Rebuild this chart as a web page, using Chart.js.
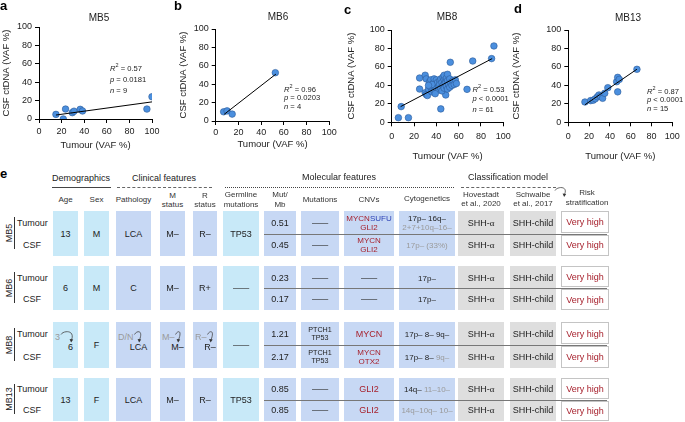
<!DOCTYPE html>
<html><head><meta charset="utf-8">
<script src="https://cdn.jsdelivr.net/npm/chart.js@4.4.1/dist/chart.umd.min.js"></script>
<style>
html,body{margin:0;padding:0;background:#fff;}
#root{position:relative;width:685px;height:422px;overflow:hidden;background:#fff;}
#root canvas{position:absolute;top:0;}
.t{position:absolute;white-space:nowrap;line-height:1.15;font-family:'Liberation Sans',Arial,Helvetica,sans-serif;color:#222;}
.bx{position:absolute;box-sizing:border-box;}
.a{font-family:'Liberation Serif','Times New Roman',serif;}
svg{position:absolute;left:0;top:0;}
</style></head><body><div id="root"></div>
<script>
// ---------------- scatter data (VAF %) ----------------
const mb5Tumour = [15, 21.5, 23.5, 29.5, 31, 36.5, 38.5, 95.5, 100];
const mb5Csf    = [5, 0, 10.8, 6.9, 8.5, 10.5, 8.7, 10.8, 24.2];
const mb5FitX = [15, 100];
const mb5FitY = [4.3, 18.6];
const mb5Stats = ['0.57', '= 0.0181', '9'];

const mb6Tumour = [7, 10, 14.5, 52.5];
const mb6Csf    = [10, 11, 7.5, 52.5];
const mb6FitX = [7.5, 53];
const mb6FitY = [7.3, 51];
const mb6Stats = ['0.96', '= 0.0203', '4'];

const mb8Tumour = [6, 15, 8.5, 44, 52.5, 72.6, 91.6, 89.5, 67.5, 48.4,
  25, 25, 30, 31, 30, 31, 32, 33, 34, 35, 35, 36, 37, 38, 38, 39, 40, 40, 41, 42,
  42, 43, 43, 44, 44, 45, 45, 46, 46, 47, 47, 47, 48, 48, 49, 49, 50, 50, 50, 51,
  52, 52, 53, 54, 55, 56, 57, 58, 36, 39, 33];
const mb8Csf = [5, 5, 17, 14.5, 65, 66.4, 82.7, 69, 35.7, 29.6,
  48, 36, 51, 47, 32, 30, 29, 36, 44, 46, 38, 33, 42, 47, 34, 40, 46, 37, 43, 35,
  39, 45, 41, 37, 47, 43, 34, 40, 49, 46, 37, 51, 44, 42, 48, 39, 52, 45, 36, 41,
  47, 38, 43, 40, 45, 41, 46, 42, 41, 31, 40];
const mb8FitX = [8, 90];
const mb8FitY = [17, 69];
const mb8Stats = ['0.53', '< 0.0001', '61'];

const mb13Tumour = [16, 21.5, 24, 26, 28, 29.5, 31, 33, 35, 38, 47.5, 46.5, 47.5, 49, 66];
const mb13Csf    = [22, 23.5, 24, 25.5, 27.7, 29.6, 28, 26, 31.4, 37.5, 33, 44, 48.7, 46.5, 57.4];
const mb13FitX = [16, 66];
const mb13FitY = [19, 57.5];
const mb13Stats = ['0.87', '< 0.0001', '15'];

const panelTitles = ['MB5', 'MB6', 'MB8', 'MB13'];
const axisTicks = [0, 20, 40, 60, 80, 100];

// ---------------- table data ----------------
const patients = ['MB5', 'MB6', 'MB8', 'MB13'];
const ages = ['13', '6', '3>6', '13'];
const sexes = ['M', 'M', 'F', 'F'];
const pathology = ['LCA', 'C', 'D/N>LCA', 'LCA'];
const mStatus = ['M–', 'M–', 'M–>M–', 'M–'];
const rStatus = ['R–', 'R+', 'R–>R–', 'R–'];
const germline = ['TP53', '—', '—', 'TP53'];
const mutMbTumour = ['0.51', '0.23', '1.21', '0.85'];
const mutMbCsf = ['0.45', '0.17', '2.17', '0.85'];
const mutationsTumour = ['—', '—', 'PTCH1|TP53', '—'];
const mutationsCsf = ['—', '—', 'PTCH1|TP53', '—'];
const cnvTumour = ['{r:MYCN}{b:SUFU}|{r:GLI2}', '—', '{r:MYCN}', '{r:GLI2}'];
const cnvCsf = ['{r:MYCN}|{r:GLI2}', '—', '{r:MYCN}|{r:OTX2}', '{r:GLI2}'];
const cytoTumour = ['17p– 16q–|{g:2+7+10q–16–}', '17p–', '17p– 8– 9q–', '14q– {g:11–10–}'];
const cytoCsf = ['{g:17p– (33%)}', '17p–', '17p– 8– {g:9q–}', '{g:14q–10q– 10–}'];
const hovestadt = ['SHH-α', 'SHH-α', 'SHH-α', 'SHH-α'];
const schwalbe = ['SHH-child', 'SHH-child', 'SHH-child', 'SHH-child'];
const riskTumour = ['Very high', 'Very high', 'Very high', 'Very high'];
const riskCsf = ['Very high', 'Very high', 'Very high', 'Very high'];

// ---------------- layout / style ----------------
const F = "'Liberation Sans', Arial, Helvetica, sans-serif";
const RED = '#a61f2b', BLUE = '#2a3fb5', GRAY = '#9a9a9a';
const CYAN = '#c8e9f8', LAV = '#c7d8f4', GREYC = '#dedede';
const root = document.getElementById('root');

function put(html, x, y, o = {}) {
  const d = document.createElement('div');
  d.className = 't';
  d.innerHTML = html;
  const s = d.style;
  s.left = x + 'px'; s.top = y + 'px';
  s.fontSize = (o.size || 9) + 'px';
  if (o.color) s.color = o.color;
  if (o.bold) s.fontWeight = 'bold';
  if (o.lh) s.lineHeight = o.lh + 'px';
  const ax = o.align === 'left' ? '0' : '-50%';
  s.transform = `translate(${ax},-50%)` + (o.rot ? ` rotate(${o.rot}deg)` : '') + (o.sx ? ` scaleX(${o.sx})` : '');
  s.textAlign = o.align === 'left' ? 'left' : 'center';
  root.appendChild(d);
  return d;
}
function box(l, t, r, b, bg, border) {
  const d = document.createElement('div');
  d.className = 'bx';
  Object.assign(d.style, {left: l + 'px', top: t + 'px', width: (r - l) + 'px', height: (b - t) + 'px', background: bg});
  if (border) d.style.border = border;
  root.appendChild(d);
  return d;
}
function hline(x1, x2, y, style) {
  const d = document.createElement('div');
  d.className = 'bx';
  Object.assign(d.style, {left: x1 + 'px', top: y + 'px', width: (x2 - x1) + 'px', height: '0px', borderTop: style});
  root.appendChild(d);
}

// ---------------- charts ----------------
const panels = [
  {xs: mb5Tumour, ys: mb5Csf, fx: mb5FitX, fy: mb5FitY, st: mb5Stats, left: 0, w: 175, h: 155, top: 27, axL: 39, right: 152, bottom: 119, tickPad: 3, yTP: 1, xTP: 3.6, tx: 99, ty: 17.5, sx: 110, sy: [68, 79.5, 91], letter: 'a', lx: 0, ly: 5},
  {xs: mb6Tumour, ys: mb6Csf, fx: mb6FitX, fy: mb6FitY, st: mb6Stats, left: 170, w: 180, h: 155, top: 29, axL: 45.7, right: 159.3, bottom: 121, tickPad: 2, yTP: 7.5, xTP: 4.5, tx: 278, ty: 17, sx: 284, sy: [89, 98.3, 107], letter: 'b', lx: 174, ly: 5.3},
  {xs: mb8Tumour, ys: mb8Csf, fx: mb8FitX, fy: mb8FitY, st: mb8Stats, left: 340, w: 180, h: 165, top: 30, axL: 51.7, right: 163.3, bottom: 122.3, tickPad: 5, yTP: 6, xTP: 2.6, tx: 447, ty: 17, sx: 472.5, sy: [89.3, 99.3, 110], letter: 'c', lx: 344, ly: 9},
  {xs: mb13Tumour, ys: mb13Csf, fx: mb13FitX, fy: mb13FitY, st: mb13Stats, left: 510, w: 175, h: 165, top: 30, axL: 58.3, right: 162.3, bottom: 122.3, tickPad: 5, yTP: 1, xTP: 2.6, tx: 628, ty: 18, sx: 647, sy: [90.7, 100, 108.5], letter: 'd', lx: 514, ly: 8}
];

panels.forEach((p, k) => {
  const cv = document.createElement('canvas');
  cv.width = p.w; cv.height = p.h;
  cv.style.left = p.left + 'px'; cv.style.width = p.w + 'px'; cv.style.height = p.h + 'px';
  root.appendChild(cv);
  const axisCommon = {
    type: 'linear', min: 0, max: 100,
    grid: {drawOnChartArea: false, drawTicks: true, tickLength: 4, color: '#000', lineWidth: 1},
    border: {display: true, color: '#000', width: 1}
  };
  new Chart(cv, {
    type: 'scatter',
    data: {datasets: [
      {type: 'line', data: p.fx.map((x, i) => ({x, y: p.fy[i]})), borderColor: '#000', borderWidth: 1, pointRadius: 0, showLine: true, fill: false, order: 0},
      {data: p.xs.map((x, i) => ({x, y: p.ys[i]})), backgroundColor: '#4b8fde', borderColor: '#2c5b99', borderWidth: 0.6, pointRadius: 3.3, order: 1}
    ]},
    options: {
      responsive: false, animation: false, devicePixelRatio: 1,
      layout: {padding: {top: p.top, right: p.w - p.right, left: 0, bottom: 0}},
      plugins: {legend: {display: false}, tooltip: {enabled: false}, title: {display: false}},
      scales: {
        x: Object.assign({}, axisCommon, {
          afterFit: s => { s.height = p.h - p.bottom; },
          afterBuildTicks: s => { s.ticks = axisTicks.map(v => ({value: v})); },
          ticks: {font: {size: 9, family: F}, color: '#222', padding: p.tickPad, maxRotation: 0, autoSkip: false},
          title: {display: true, text: 'Tumour (VAF %)', font: {size: 9.5, family: F}, color: '#222', padding: {top: 0, bottom: p.xTP}}
        }),
        y: Object.assign({}, axisCommon, {
          afterFit: s => { s.width = p.axL; },
          afterBuildTicks: s => { s.ticks = axisTicks.map(v => ({value: v})); },
          ticks: {font: {size: 9, family: F}, color: '#222', padding: 3, autoSkip: false},
          title: {display: true, text: 'CSF ctDNA (VAF %)', font: {size: 9.5, family: F}, color: '#222', padding: {top: p.yTP, bottom: 0}}
        })
      }
    }
  });
  put(p.letter, p.lx, p.ly, {size: 13, bold: true, color: '#000', align: 'left', lh: 13});
  put(panelTitles[k], p.tx, p.ty, {size: 10, color: '#222'});
  put(`<i>R</i><sup style="font-size:5.5px;vertical-align:4px">2</sup> = ${p.st[0]}`, p.sx, p.sy[0], {size: 7.6, align: 'left'});
  put(`<i>p</i> ${p.st[1]}`, p.sx, p.sy[1], {size: 7.6, align: 'left'});
  put(`<i>n</i> = ${p.st[2]}`, p.sx, p.sy[2], {size: 7.6, align: 'left'});
});

// ---------------- table ----------------
const cols = {age: [53, 78], sex: [84, 109], path: [116, 151], m: [160, 185], r: [193, 217], germ: [223, 259],
  mut: [264, 296], muts: [301, 339], cnv: [344, 394], cyto: [399, 455], hov: [458, 504], sch: [510, 556], risk: [561, 609]};
const blocks = [[211, 256], [266, 310], [322, 368], [378, 421]];
const cx = c => (cols[c][0] + cols[c][1]) / 2;

function rich(s) {
  return s.split('|').map(line => line.replace(/\{([rbg]):([^}]*)\}/g, (m, c, t) =>
    `<span style="color:${c === 'r' ? RED : c === 'b' ? BLUE : GRAY}">${t}</span>`)).join('<br>')
    .replace(/α/g, '<span class="a">α</span>');
}
function cellText(col, cy, s, size) {
  if (s === '—') put('—', cx(col), cy, {size: 9, color: '#333', sx: 1.8});
  else put(rich(s), cx(col), cy, {size: size || 9, lh: (size || 9) + 1});
}
const svgNS = 'http://www.w3.org/2000/svg';
const arrows = [];
function arrow(x0, y0, x1, y1) { arrows.push([x0, y0, x1, y1]); }
function changed(col, top, s) {
  const [a, b] = s.split('>');
  const l = cols[col][0];
  const d1 = put(a, l + 2, top + 15, {size: 9, color: GRAY, align: 'left'});
  const w = d1.getBoundingClientRect().width;
  const x1 = cx(col) + 5;
  put(b, x1, top + 25, {size: 9});
  arrow(l + 2 + w + 1, top + 12.5, x1 + 1, top + 20);
}

// group headers
put('Demographics', 81, 178, {size: 9});
put('Clinical features', 164, 178, {size: 9});
put('Molecular features', 339, 177, {size: 9});
put('Classification model', 508, 177, {size: 9});
hline(52, 111, 186.5, '1px solid #444');
hline(117, 212, 186.5, '1px dashed #666');
hline(225, 454, 186.5, '1px dotted #444');
hline(461, 556, 186.5, '1px dashed #666');

// column headers
const hs = {size: 8, color: '#333', lh: 9.5};
put('Age', cx('age'), 200, hs);
put('Sex', cx('sex'), 200, hs);
put('Pathology', cx('path'), 200, hs);
put('M<br>status', cx('m'), 199.5, hs);
put('R<br>status', cx('r'), 199.5, hs);
put('Germline<br>mutations', cx('germ'), 199, hs);
put('Mut/<br>Mb', cx('mut'), 199, hs);
put('Mutations', cx('muts'), 200, hs);
put('CNVs', cx('cnv'), 200, hs);
put('Cytogenetics', cx('cyto'), 199, hs);
put('Hovestadt<br>et al., 2020', cx('hov'), 198.5, hs);
put('Schwalbe<br>et al., 2017', cx('sch'), 198.5, hs);
put('Risk<br>stratification', 587, 197, hs);
arrow(555, 190.5, 564.5, 196.5);

put('e', 0, 173, {size: 13, bold: true, color: '#000', align: 'left', lh: 13});

blocks.forEach(([top, bot], i) => {
  const mid = (top + bot) / 2, c1 = (top + mid) / 2 + 0.5, c2 = (mid + bot) / 2, cm = mid;
  // row labels
  const bt = top + 6, bb = bot - 7;
  box(14, bt, 15, bb, '#333');
  put(patients[i], 9, (bt + bb) / 2, {size: 9, rot: -90});
  put('Tumour', 17, c1, {size: 9, align: 'left'});
  put('CSF', 32, c2, {size: 9});
  // boxes
  ['age', 'sex', 'germ'].forEach(c => box(cols[c][0], top, cols[c][1], bot, CYAN));
  ['path', 'm', 'r', 'mut', 'muts', 'cnv', 'cyto'].forEach(c => box(cols[c][0], top, cols[c][1], bot, LAV));
  ['hov', 'sch'].forEach(c => box(cols[c][0], top, cols[c][1], bot, GREYC));
  box(cols.risk[0], top, cols.risk[1], mid - 1, '#fff', '1.5px solid #c4c4c4');
  box(cols.risk[0], mid + 1, cols.risk[1], bot, '#fff', '1.5px solid #c4c4c4');
  hline(264, 607, mid, '1px solid #777');
  // single-span cells
  [['age', ages], ['path', pathology], ['m', mStatus], ['r', rStatus]].forEach(([c, arr]) => {
    if (arr[i].includes('>')) changed(c, top, arr[i]); else cellText(c, cm, arr[i]);
  });
  cellText('sex', cm, sexes[i]);
  cellText('germ', cm, germline[i]);
  // split cells
  cellText('mut', c1, mutMbTumour[i]);
  cellText('mut', c2, mutMbCsf[i]);
  cellText('muts', c1, mutationsTumour[i], 7.2);
  cellText('muts', c2, mutationsCsf[i], 7.2);
  cellText('cnv', c1, cnvTumour[i], cnvTumour[i].includes('|') ? 8 : 9);
  cellText('cnv', c2, cnvCsf[i], cnvCsf[i].includes('|') ? 8 : 9);
  cellText('cyto', c1, cytoTumour[i], 8);
  cellText('cyto', c2, cytoCsf[i], 8);
  cellText('hov', c1, hovestadt[i]);
  cellText('hov', c2, hovestadt[i]);
  cellText('sch', c1, schwalbe[i]);
  cellText('sch', c2, schwalbe[i]);
  put(riskTumour[i], cx('risk'), c1 - 0.5, {size: 9, color: RED});
  put(riskCsf[i], cx('risk'), c2 + 0.5, {size: 9, color: RED});
});

// arrows overlay
const svg = document.createElementNS(svgNS, 'svg');
svg.setAttribute('width', 685); svg.setAttribute('height', 422);
arrows.forEach(([x0, y0, x1, y1]) => {
  const p = document.createElementNS(svgNS, 'path');
  p.setAttribute('d', `M${x0} ${y0} C${x0 + 2} ${y0 - 4} ${x1 + 4} ${y0 - 5} ${x1} ${y1 - 2}`);
  p.setAttribute('stroke', '#444'); p.setAttribute('stroke-width', '0.8'); p.setAttribute('fill', 'none');
  svg.appendChild(p);
  const t = document.createElementNS(svgNS, 'polygon');
  t.setAttribute('points', `${x1 - 1.9},${y1 - 3} ${x1 + 1.7},${y1 - 2.4} ${x1 - 0.4},${y1 + 0.6}`);
  t.setAttribute('fill', '#333');
  svg.appendChild(t);
});
root.appendChild(svg);
</script></body></html>
